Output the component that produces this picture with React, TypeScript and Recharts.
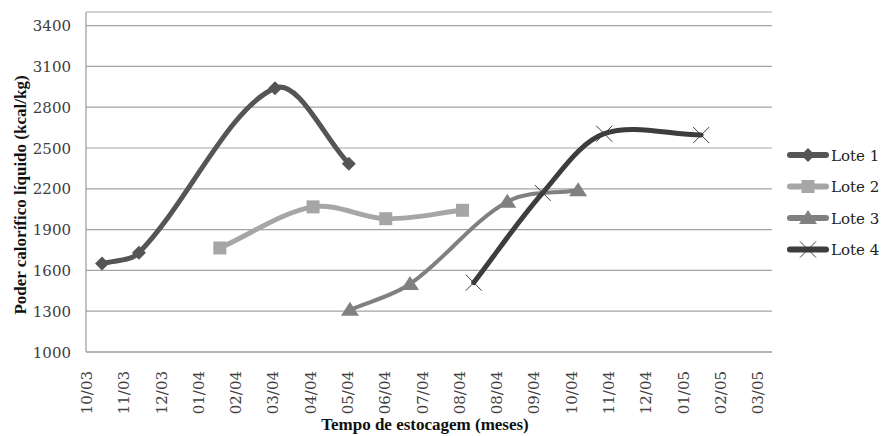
import React from 'react';
import { LineChart, Line, XAxis, YAxis, CartesianGrid, Legend } from 'recharts';

// x positions are measured in axis ticks (one tick = one label below)
const tickLabels = [
  '10/03', '11/03', '12/03', '01/04', '02/04', '03/04', '04/04', '05/04', '06/04', '07/04',
  '08/04', '08/04', '09/04', '10/04', '11/04', '12/04', '01/05', '02/05', '03/05',
];
const yTicks = [1000, 1300, 1600, 1900, 2200, 2500, 2800, 3100, 3400];

const lote1Pos = [0.43, 1.42, 5.07, 7.05];
const lote1Val = [1650, 1730, 2940, 2385];
const lote2Pos = [3.59, 6.09, 8.04, 10.1];
const lote2Val = [1765, 2067, 1980, 2042];
const lote3Pos = [7.08, 8.69, 11.3, 13.2];
const lote3Val = [1310, 1500, 2105, 2190];
const lote4Pos = [10.4, 12.25, 13.9, 16.5];
const lote4Val = [1510, 2170, 2605, 2595];

const toPoints = (pos: number[], val: number[]) => pos.map((x, i) => ({ x, y: val[i] }));

const tickFont = { fontFamily: "'DejaVu Serif', serif" };
const titleFont = { fontFamily: "'Liberation Serif', serif" };

// excel-like smoothing: catmull-rom with handles scaled by segment length
const excelSmooth = (context: any) => {
  let pts: number[][] = [];
  const dist = (a: number[], b: number[]) => Math.hypot(b[0] - a[0], b[1] - a[1]);
  return {
    areaStart() {},
    areaEnd() {},
    lineStart() {
      pts = [];
    },
    point(x: number, y: number) {
      pts.push([+x, +y]);
    },
    lineEnd() {
      const n = pts.length;
      if (!n) return;
      context.moveTo(pts[0][0], pts[0][1]);
      for (let i = 0; i < n - 1; i++) {
        const p0 = pts[Math.max(i - 1, 0)];
        const p1 = pts[i];
        const p2 = pts[i + 1];
        const p3 = pts[Math.min(i + 2, n - 1)];
        const d01 = dist(p0, p1);
        const d12 = dist(p1, p2);
        const d23 = dist(p2, p3);
        const k1 = d12 / (3 * (d01 + d12));
        const k2 = d12 / (3 * (d12 + d23));
        context.bezierCurveTo(
          p1[0] + (p2[0] - p0[0]) * k1,
          p1[1] + (p2[1] - p0[1]) * k1,
          p2[0] - (p3[0] - p1[0]) * k2,
          p2[1] - (p3[1] - p1[1]) * k2,
          p2[0],
          p2[1]
        );
      }
    },
  };
};

const series = [
  { name: 'Lote 1', data: toPoints(lote1Pos, lote1Val), color: '#555555', width: 5, marker: 'diamond' },
  { name: 'Lote 2', data: toPoints(lote2Pos, lote2Val), color: '#a6a6a6', width: 5, marker: 'square' },
  { name: 'Lote 3', data: toPoints(lote3Pos, lote3Val), color: '#808080', width: 4, marker: 'triangle' },
  { name: 'Lote 4', data: toPoints(lote4Pos, lote4Val), color: '#3d3d3d', width: 5, marker: 'cross' },
];

const Marker = ({ cx, cy, kind, color }: any) => {
  if (kind === 'diamond') {
    return <polygon points={`${cx},${cy - 7} ${cx + 7},${cy} ${cx},${cy + 7} ${cx - 7},${cy}`} fill={color} />;
  }
  if (kind === 'square') {
    return <rect x={cx - 6.5} y={cy - 6.5} width={13} height={13} fill={color} />;
  }
  if (kind === 'triangle') {
    return <polygon points={`${cx},${cy - 8} ${cx + 9},${cy + 6} ${cx - 9},${cy + 6}`} fill={color} />;
  }
  return (
    <g stroke={color} strokeWidth={1}>
      <line x1={cx - 8} y1={cy - 8} x2={cx + 8} y2={cy + 8} />
      <line x1={cx - 8} y1={cy + 8} x2={cx + 8} y2={cy - 8} />
    </g>
  );
};

const XTick = ({ x, y, payload }: any) => (
  <text
    x={x + 6}
    y={y + 11}
    transform={`rotate(-90 ${x + 6} ${y + 11})`}
    textAnchor="end"
    fontSize={15}
    style={tickFont}
    fill="#404040"
  >
    {tickLabels[payload.value]}
  </text>
);

const YTick = ({ y, payload }: any) => (
  <text x={71} y={y + 5.5} textAnchor="end" fontSize={15} style={tickFont} fill="#404040">
    {payload.value}
  </text>
);

const LegendBox = () => (
  <svg width={99} height={120}>
    {series.map((s, i) => {
      const cy = 12 + i * 31.5;
      return (
        <g key={s.name}>
          <line x1={6} y1={cy} x2={42} y2={cy} stroke={s.color} strokeWidth={6} strokeLinecap="round" />
          <Marker cx={24} cy={cy} kind={s.marker} color={s.color} />
          <text x={47} y={cy + 5.5} fontSize={15} style={tickFont} fill="#222">
            {s.name}
          </text>
        </g>
      );
    })}
  </svg>
);

export default function App() {
  return (
    <div style={{ position: 'absolute', left: 0, top: 0, width: 883, height: 436, background: '#fff' }}>
      <LineChart width={883} height={436} margin={{ top: 12, right: 111, bottom: 0, left: 0 }}>
        <CartesianGrid vertical={false} stroke="#a3a3a3" strokeWidth={1.2} />
        <XAxis
          type="number"
          dataKey="x"
          domain={[0, 18.4]}
          ticks={tickLabels.map((_, i) => i)}
          interval={0}
          height={84}
          tick={<XTick />}
          tickLine={false}
          axisLine={{ stroke: '#9a9a9a', strokeWidth: 1.2 }}
          allowDataOverflow
          label={{
            content: () => (
              <text x={425} y={430} textAnchor="middle" fontSize={17} fontWeight="bold" style={titleFont} fill="#111">
                Tempo de estocagem (meses)
              </text>
            ),
          }}
        />
        <YAxis
          type="number"
          domain={[1000, 3500]}
          ticks={yTicks}
          width={86}
          tick={<YTick />}
          tickLine={false}
          axisLine={{ stroke: '#9a9a9a', strokeWidth: 1.2 }}
          allowDataOverflow
          label={{
            content: () => (
              <text
                x={26}
                y={195}
                transform="rotate(-90 26 195)"
                textAnchor="middle"
                fontSize={17}
                fontWeight="bold"
                style={titleFont}
                fill="#111"
              >
                Poder calorífico líquido (kcal/kg)
              </text>
            ),
          }}
        />
        <Legend
          layout="vertical"
          align="center"
          verticalAlign="middle"
          content={() => <LegendBox />}
          wrapperStyle={{ left: 784, top: 143, width: 99 }}
        />
        {series.map((s) => (
          <Line
            key={s.name}
            name={s.name}
            data={s.data}
            dataKey="y"
            type={excelSmooth as any}
            stroke={s.color}
            strokeWidth={s.width}
            strokeLinecap="round"
            isAnimationActive={false}
            dot={(p: any) => <Marker key={`${s.name}-${p.index}`} cx={p.cx} cy={p.cy} kind={s.marker} color={s.color} />}
            activeDot={false}
          />
        ))}
      </LineChart>
    </div>
  );
}
